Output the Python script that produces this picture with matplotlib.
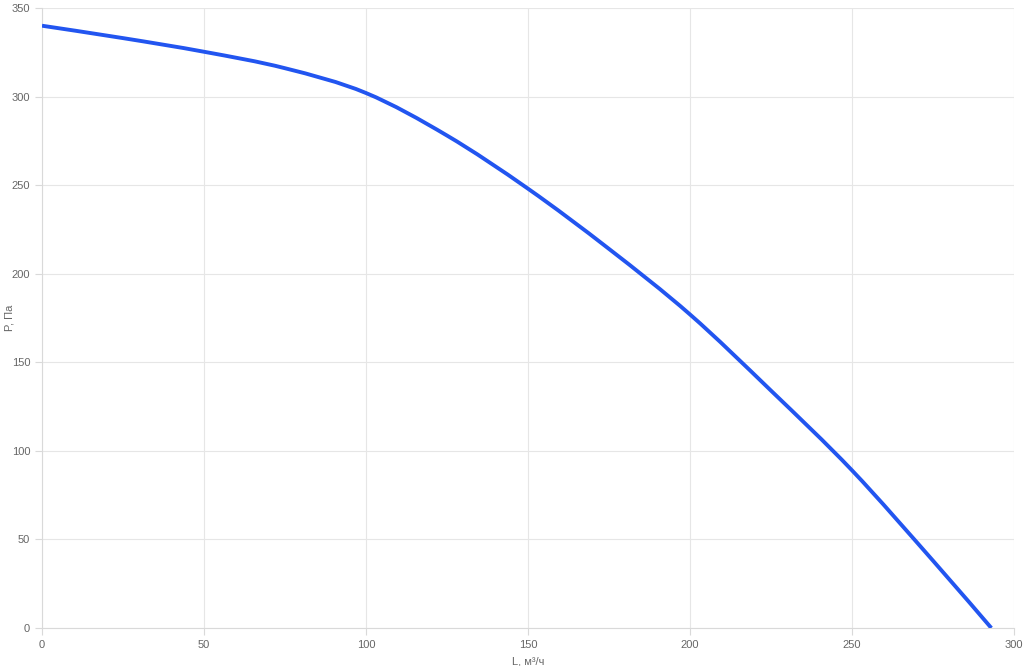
import matplotlib
matplotlib.use('Agg')
import matplotlib.pyplot as plt
from matplotlib.path import Path
from matplotlib.patches import PathPatch
import numpy as np

plt.rcParams['font.family'] = ['Liberation Sans', 'DejaVu Sans']

# данные кривой
flow = [0, 25, 50, 75, 100, 125, 150, 175, 200, 225, 250, 275, 293]
pressure = [340, 333, 325.3, 316, 302, 278, 248, 214, 177, 134, 89, 38, 0]

x_ticks = [0, 50, 100, 150, 200, 250, 300]
y_ticks = [0, 50, 100, 150, 200, 250, 300, 350]

fig = plt.figure(figsize=(10.24, 6.66), dpi=100)
ax = fig.add_axes([42 / 1024, 38 / 666, 972 / 1024, 620 / 666])

# сглаженная кривая: Catmull-Rom -> кривые Безье
pts = np.column_stack([flow, pressure]).astype(float)
verts = [pts[0]]
codes = [Path.MOVETO]
for i in range(len(pts) - 1):
    p0 = pts[i - 1] if i > 0 else pts[i]
    p1 = pts[i]
    p2 = pts[i + 1]
    p3 = pts[i + 2] if i + 2 < len(pts) else pts[i + 1]
    c1 = p1 + (p2 - p0) / 6
    c2 = p2 - (p3 - p1) / 6
    verts += [c1, c2, p2]
    codes += [Path.CURVE4] * 3
ax.add_patch(PathPatch(Path(verts, codes), fill=False, edgecolor='#2255f0',
                       lw=2.8, capstyle='butt', zorder=3))

ax.set_xlim(0, 300)
ax.set_ylim(0, 350)
ax.set_xticks(x_ticks)
ax.set_yticks(y_ticks)
ax.grid(True, color='#e6e6e6', lw=0.8)
ax.set_axisbelow(True)
for s in ['top', 'right']:
    ax.spines[s].set_visible(False)
for s in ['left', 'bottom']:
    ax.spines[s].set_color('#d9d9d9')
ax.tick_params(colors='#d9d9d9', labelcolor='#666666', labelsize=8, length=5, width=0.8)

ax.set_xlabel('L, м³/ч', fontsize=8, color='#666666')
ax.set_ylabel('P, Па', fontsize=8, color='#666666')
ax.xaxis.set_label_coords(0.5, -29 / 620)
ax.yaxis.set_label_coords(-28 / 972, 0.5)

fig.savefig('out.png', dpi=100)
